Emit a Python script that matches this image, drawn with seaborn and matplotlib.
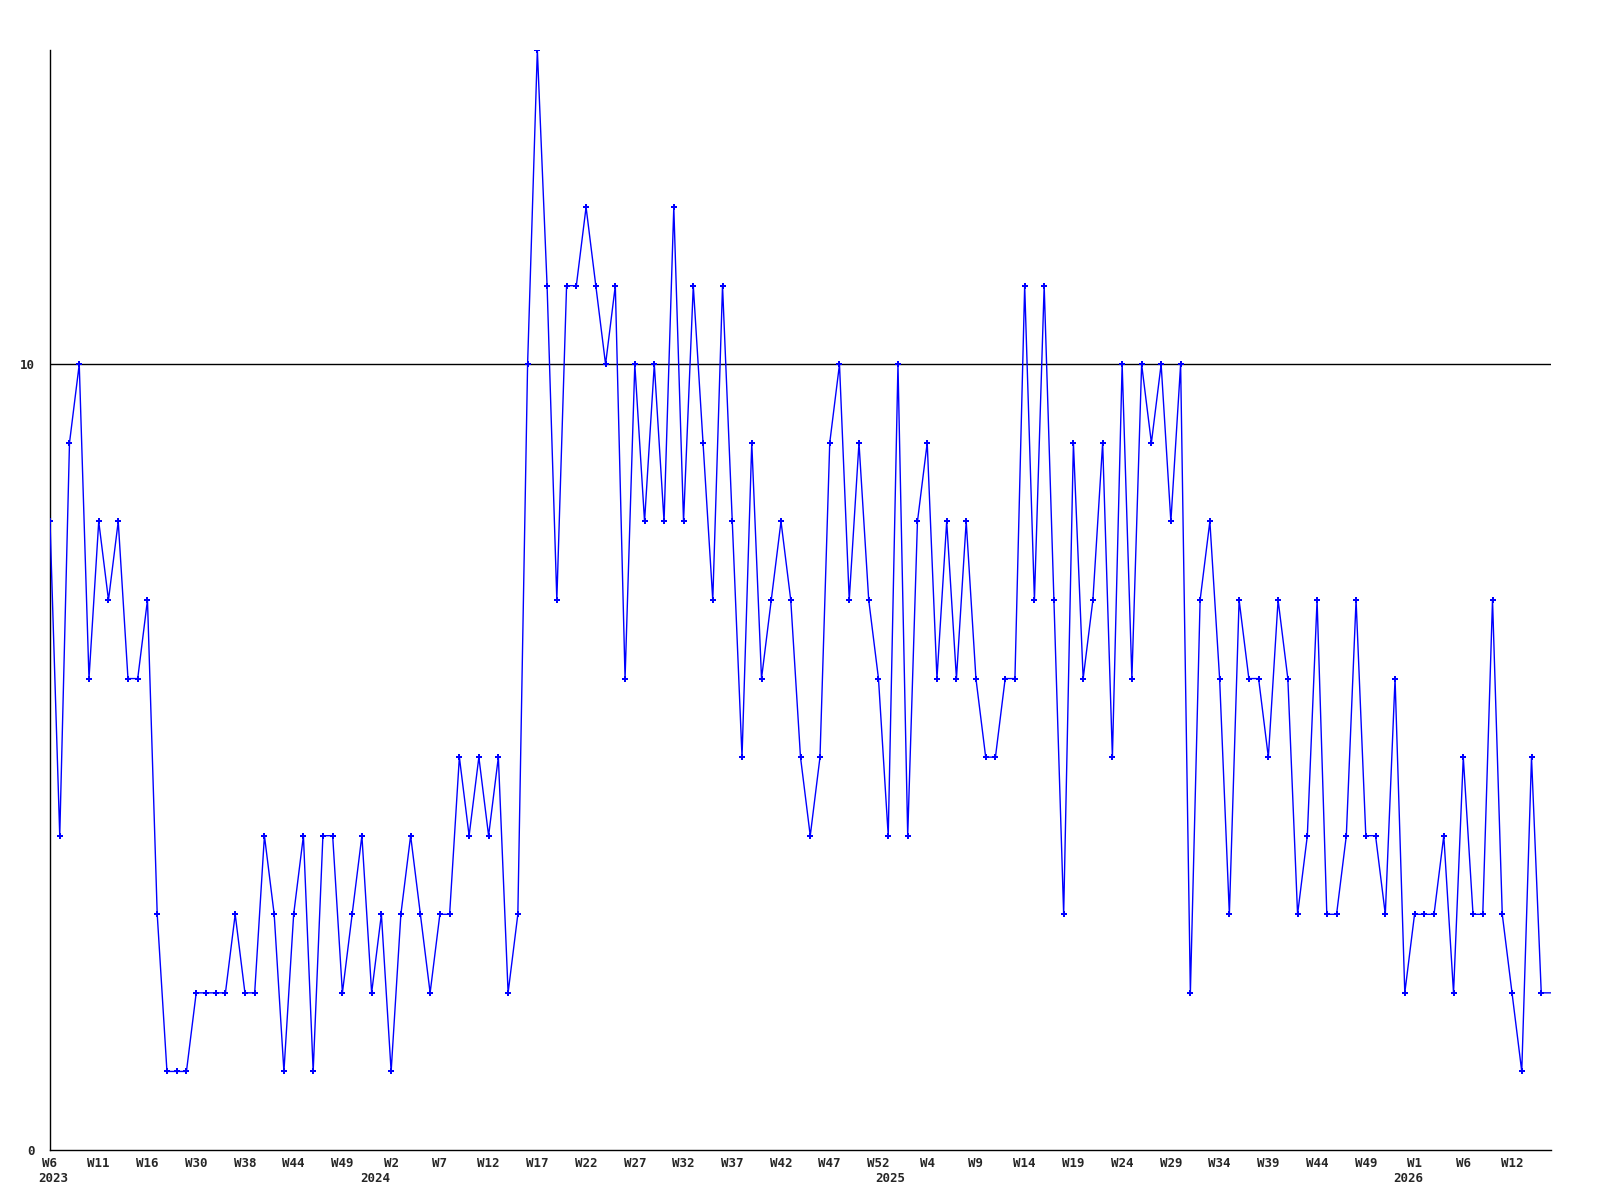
import numpy as np
import pandas as pd
import matplotlib
matplotlib.use("Agg")
import matplotlib.pyplot as plt
import seaborn as sns

# weekly counts, one per data point (last point sits on the right edge)
values = [8, 4, 9, 10, 6, 8, 7, 8, 6, 6, 7, 3, 1, 1, 1, 2, 2, 2, 2, 3, 2, 2, 4,
          3, 1, 3, 4, 1, 4, 4, 2, 3, 4, 2, 3, 1, 3, 4, 3, 2, 3, 3, 5, 4, 5,
          4, 5, 2, 3, 10, 14, 11, 7, 11, 11, 12, 11, 10, 11, 6, 10, 8, 10, 8, 12, 8, 11,
          9, 7, 11, 8, 5, 9, 6, 7, 8, 7, 5, 4, 5, 9, 10, 7, 9, 7, 6, 4, 10, 4,
          8, 9, 6, 8, 6, 8, 6, 5, 5, 6, 6, 11, 7, 11, 7, 3, 9, 6, 7, 9, 5, 10,
          6, 10, 9, 10, 8, 10, 2, 7, 8, 6, 3, 7, 6, 6, 5, 7, 6, 3, 4, 7, 3, 3,
          4, 7, 4, 4, 3, 6, 2, 3, 3, 3, 4, 2, 5, 3, 3, 7, 3, 2, 1, 5, 2, 2]

week_labels = ["W6", "W11", "W16", "W30", "W38", "W44", "W49",
               "W2", "W7", "W12", "W17", "W22", "W27", "W32", "W37", "W42", "W47", "W52",
               "W4", "W9", "W14", "W19", "W24", "W29", "W34", "W39", "W44", "W49",
               "W1", "W6", "W12"]
week_pos = list(range(0, 151, 5))

years = ["2023", "2024", "2025", "2026"]
year_pos = [0.3, 33.4, 86.2, 139.4]

df = pd.DataFrame({"idx": np.arange(len(values)), "count": values})

sns.set_style("white")
plt.rcParams['font.family'] = ['DejaVu Sans Mono', 'DejaVu Sans']
plt.rcParams['font.weight'] = 'bold'

fig = plt.figure(figsize=(16, 12), dpi=100)
ax = fig.add_axes([50 / 1600, 50 / 1200, 1501 / 1600, 1100 / 1200])

ax.axhline(10, color="black", lw=1, zorder=1)

sns.lineplot(data=df, x="idx", y="count", ax=ax, color="#0000ff", lw=1,
             marker="P", markersize=4.5, markeredgewidth=0,
             markevery=list(range(len(values) - 1)), zorder=3)

ax.set_xlim(0, len(values) - 1)
ax.set_ylim(0, 14)

ax.set_xticks(week_pos)
ax.set_xticklabels(week_labels, fontsize=9, fontweight="bold")
ax.set_yticks([0, 10])
ax.set_yticklabels(["0", "10"], fontsize=9, fontweight="bold")
ax.tick_params(axis="x", length=0, pad=5)
ax.tick_params(axis="y", length=0, pad=11)

for yr, p in zip(years, year_pos):
    ax.annotate(yr, xy=(p, 0), xycoords=("data", "axes fraction"),
                xytext=(0, -16), textcoords="offset points",
                ha="center", va="top", fontsize=9, fontweight="bold")

ax.set_xlabel("")
ax.set_ylabel("")
for side in ["top", "right"]:
    ax.spines[side].set_visible(False)
for side in ["left", "bottom"]:
    ax.spines[side].set_color("black")
    ax.spines[side].set_linewidth(1)

fig.savefig("out.png", dpi=100)
